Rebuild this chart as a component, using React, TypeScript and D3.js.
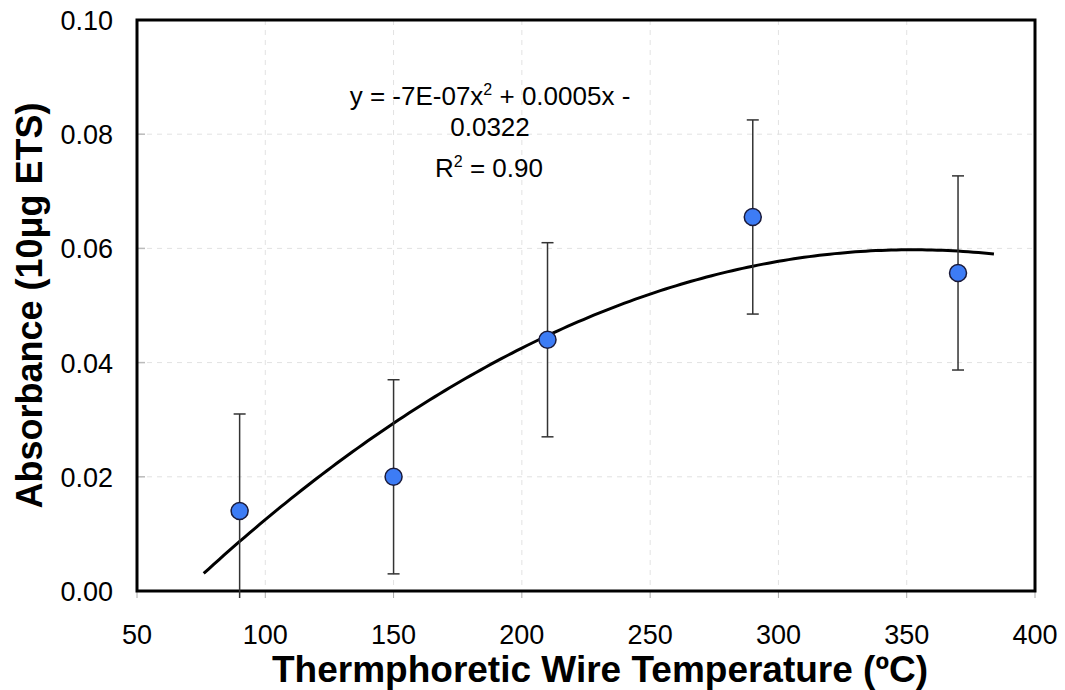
import React from "react";
import * as d3 from "d3";

const temps = [90, 150, 210, 290, 370];
const absorbance = [0.014, 0.02, 0.044, 0.0655, 0.0557];
const errors = [0.017, 0.017, 0.017, 0.017, 0.017];
const xTicks = [50, 100, 150, 200, 250, 300, 350, 400];
const yTicks = [0, 0.02, 0.04, 0.06, 0.08, 0.1];
const trendRange = [76, 384];

function quadFit(xs: number[], ys: number[]) {
  const n = xs.length;
  let s = [0, 0, 0, 0, 0];
  let t = [0, 0, 0];
  for (let i = 0; i < n; i++) {
    for (let k = 0; k < 5; k++) s[k] += Math.pow(xs[i], k);
    for (let k = 0; k < 3; k++) t[k] += Math.pow(xs[i], k) * ys[i];
  }
  const M = [
    [s[0], s[1], s[2], t[0]],
    [s[1], s[2], s[3], t[1]],
    [s[2], s[3], s[4], t[2]],
  ];
  for (let i = 0; i < 3; i++) {
    let p = i;
    for (let r = i + 1; r < 3; r++) if (Math.abs(M[r][i]) > Math.abs(M[p][i])) p = r;
    [M[i], M[p]] = [M[p], M[i]];
    for (let r = 0; r < 3; r++) {
      if (r === i) continue;
      const f = M[r][i] / M[i][i];
      for (let c = i; c < 4; c++) M[r][c] -= f * M[i][c];
    }
  }
  return [M[0][3] / M[0][0], M[1][3] / M[1][1], M[2][3] / M[2][2]];
}

export default function App() {
  const W = 1065, H = 690;
  const left = 137, right = 1035, top = 20, bottom = 591;
  const x = d3.scaleLinear().domain([50, 400]).range([left, right]);
  const y = d3.scaleLinear().domain([0, 0.1]).range([bottom, top]);
  const [c0, c1, c2] = quadFit(temps, absorbance);
  const trendX = d3.range(trendRange[0], trendRange[1] + 0.01, 2);
  const line = d3
    .line<number>()
    .x((d) => x(d))
    .y((d) => y(c0 + c1 * d + c2 * d * d))
    .curve(d3.curveLinear);
  const font = "'Liberation Sans', Arial, sans-serif";
  return (
    <svg width={W} height={H} style={{ position: "absolute", left: 0, top: 0, background: "#fff" }} fontFamily={font}>
      <defs>
        <clipPath id="errclip">
          <rect x={left} y={top} width={right - left} height={bottom - top + 7} />
        </clipPath>
      </defs>
      {/* gridlines */}
      {xTicks.slice(1, -1).map((t) => (
        <line key={"gx" + t} x1={x(t)} x2={x(t)} y1={top} y2={bottom} stroke="#e2e2e2" strokeDasharray="5,5" strokeWidth={1} />
      ))}
      {yTicks.slice(1, -1).map((t) => (
        <line key={"gy" + t} x1={left} x2={right} y1={y(t)} y2={y(t)} stroke="#e2e2e2" strokeDasharray="5,5" strokeWidth={1} />
      ))}
      {/* ticks */}
      {xTicks.map((t) => (
        <line key={"tx" + t} x1={x(t)} x2={x(t)} y1={bottom} y2={bottom + 7} stroke="#aaa" strokeWidth={1} />
      ))}
      {yTicks.map((t) => (
        <line key={"ty" + t} x1={left} x2={left + 8} y1={y(t)} y2={y(t)} stroke="#bbb" strokeWidth={1.5} />
      ))}
      {/* frame */}
      <rect x={left} y={top} width={right - left} height={bottom - top} fill="none" stroke="#000" strokeWidth={3} />
      {/* tick labels */}
      {xTicks.map((t) => (
        <text key={"lx" + t} x={x(t)} y={644} textAnchor="middle" fontSize={27} fill="#000">
          {t}
        </text>
      ))}
      {yTicks.map((t) => (
        <text key={"ly" + t} x={113} y={y(t) + 10} textAnchor="end" fontSize={27} fill="#000">
          {t.toFixed(2)}
        </text>
      ))}
      {/* trendline */}
      <path d={line(trendX) || ""} fill="none" stroke="#000" strokeWidth={3} />
      {/* error bars */}
      <g clipPath="url(#errclip)">
        {temps.map((t, i) => {
          const hi = absorbance[i] + errors[i];
          const lo = absorbance[i] - errors[i];
          return (
            <g key={"e" + t} stroke="#333" strokeWidth={1.5}>
              <line x1={x(t)} x2={x(t)} y1={y(hi)} y2={y(lo)} />
              <line x1={x(t) - 6} x2={x(t) + 6} y1={y(hi)} y2={y(hi)} />
              <line x1={x(t) - 6} x2={x(t) + 6} y1={y(lo)} y2={y(lo)} />
            </g>
          );
        })}
      </g>
      {/* points */}
      {temps.map((t, i) => (
        <circle key={"p" + t} cx={x(t)} cy={y(absorbance[i])} r={8.5} fill="#3d7cf5" stroke="#1a1a3a" strokeWidth={1.5} />
      ))}
      {/* equation */}
      <text x={490} y={105} textAnchor="middle" fontSize={26} fill="#000">
        y = -7E-07x<tspan dy={-10} fontSize={16}>2</tspan>
        <tspan dy={10}> + 0.0005x -</tspan>
      </text>
      <text x={490} y={136} textAnchor="middle" fontSize={26} fill="#000">
        0.0322
      </text>
      <text x={489} y={177} textAnchor="middle" fontSize={26} fill="#000">
        R<tspan dy={-10} fontSize={16}>2</tspan>
        <tspan dy={10}> = 0.90</tspan>
      </text>
      {/* axis titles */}
      <text x={600} y={682} textAnchor="middle" fontSize={37} fontWeight="bold" fill="#000">
        Thermphoretic Wire Temperature (ºC)
      </text>
      <text transform={`translate(42, ${(top + bottom) / 2}) rotate(-90)`} textAnchor="middle" fontSize={36} fontWeight="bold" fill="#000">
        Absorbance (10μg ETS)
      </text>
    </svg>
  );
}
